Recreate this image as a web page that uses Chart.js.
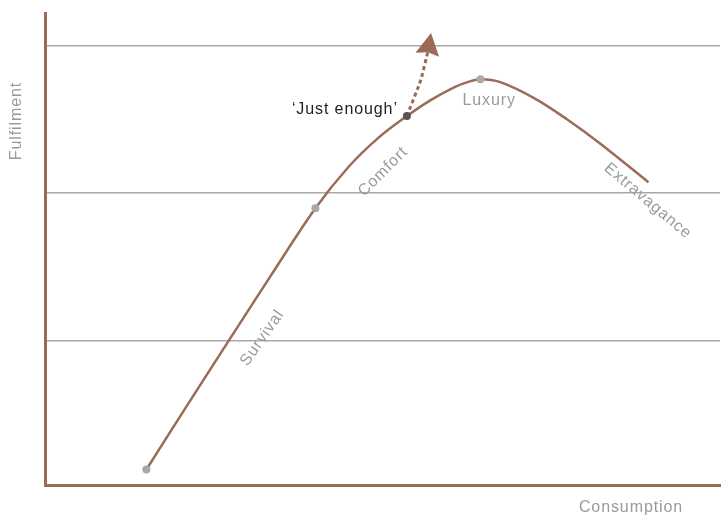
<!DOCTYPE html>
<html>
<head>
<meta charset="utf-8">
<script src="https://cdn.jsdelivr.net/npm/chart.js@4.4.1/dist/chart.umd.min.js"></script>
<style>
  body { margin: 0; background: #fff; }
  #wrap { width: 724px; height: 517px; position: relative; }
</style>
</head>
<body>
<div id="wrap"><canvas id="myChart"></canvas></div>
<script>
// curve (consumption vs fulfilment, arbitrary units)
let curveX = [15.02, 21.06, 27.25, 33.58, 40.06, 44.92, 49.34, 53.61, 57.14, 60.68, 62.59, 64.51, 67.45, 72.46, 77.32, 82.18, 89.40];
let curveY = [0.130, 0.564, 1.004, 1.451, 1.898, 2.176, 2.373, 2.522, 2.630, 2.718, 2.752, 2.772, 2.752, 2.644, 2.501, 2.339, 2.075];

// grey stage markers and the 'just enough' point
let markerX = [15.02, 40.06, 64.51];
let markerY = [0.130, 1.898, 2.772];
let enoughX = [53.61];
let enoughY = [2.522];

// dotted arrow leaving the curve
let arrowX = [53.61, 55.67, 56.70];
let arrowY = [2.522, 2.766, 2.955];
let arrowTip = [57.19, 3.084];

let yGrid = [1, 2, 3];

// stage labels: text, x, y, angle (deg)
let stageLabels = [
    ['Survival', 32.2, 1.021, -55],
    ['Comfort', 50.1, 2.146, -45],
    ['Luxury', 65.8, 2.624, 0],
    ['Extravagance', 89.3, 1.947, 40]
];

const brown = '#9b6b57';
const grey = '#a9a9a9';
const textGrey = '#9a9a9a';
const fontFam = '"Liberation Sans", Arial, Helvetica, sans-serif';

function pts(xs, ys) {
    return xs.map((x, i) => ({ x: x, y: ys[i] }));
}

const annotations = {
    id: 'annotations',
    afterDatasetsDraw(chart) {
        const c = chart.ctx;
        const xs = chart.scales.x, ys = chart.scales.y;
        // arrow head
        const nx = xs.getPixelForValue(arrowX[arrowX.length - 1]);
        const ny = ys.getPixelForValue(arrowY[arrowY.length - 1]);
        const tx = xs.getPixelForValue(arrowTip[0]);
        const ty = ys.getPixelForValue(arrowTip[1]);
        const ang = Math.atan2(ty - ny, tx - nx);
        const len = 22, half = 12;
        const bx = tx - Math.cos(ang) * len, by = ty - Math.sin(ang) * len;
        c.save();
        c.fillStyle = brown;
        c.beginPath();
        c.moveTo(tx, ty);
        c.lineTo(bx + Math.sin(ang) * half, by - Math.cos(ang) * half);
        c.lineTo(nx, ny);
        c.lineTo(bx - Math.sin(ang) * half, by + Math.cos(ang) * half);
        c.closePath();
        c.fill();

        // stage labels
        c.font = '16px ' + fontFam;
        c.letterSpacing = '0.9px';
        c.fillStyle = textGrey;
        c.textAlign = 'center';
        c.textBaseline = 'middle';
        stageLabels.forEach(l => {
            c.save();
            c.translate(xs.getPixelForValue(l[1]), ys.getPixelForValue(l[2]));
            c.rotate(l[3] * Math.PI / 180);
            c.fillText(l[0], 0, 0);
            c.restore();
        });

        // 'just enough'
        c.fillStyle = '#222';
        c.textAlign = 'right';
        c.fillText('\u2018Just enough\u2019', xs.getPixelForValue(enoughX[0]) - 9, ys.getPixelForValue(enoughY[0]) - 7);

        // axis titles
        c.fillStyle = textGrey;
        c.textAlign = 'center';
        c.fillText('Consumption', 631, 508);
        c.save();
        c.translate(17, 121);
        c.rotate(-Math.PI / 2);
        c.fillText('Fulfilment', 0, 0);
        c.restore();
        c.restore();
    }
};

var ctx = document.getElementById('myChart');
var myChart = new Chart(ctx, {
    type: 'scatter',
    data: {
        datasets: [{
            data: pts(curveX, curveY),
            showLine: true,
            borderColor: brown,
            borderWidth: 2.5,
            tension: 0.35,
            pointRadius: 0,
            clip: false,
            order: 3
        }, {
            data: pts(arrowX, arrowY),
            showLine: true,
            borderColor: brown,
            borderWidth: 3,
            borderDash: [4, 3],
            tension: 0.15,
            pointRadius: 0,
            clip: false,
            order: 2
        }, {
            data: pts(markerX, markerY),
            pointRadius: 4,
            pointBackgroundColor: grey,
            pointBorderWidth: 0,
            clip: false,
            order: 1
        }, {
            data: pts(enoughX, enoughY),
            pointRadius: 4,
            pointBackgroundColor: '#555',
            pointBorderWidth: 0,
            clip: false,
            order: 0
        }]
    },
    options: {
        responsive: true,
        maintainAspectRatio: false,
        animation: false,
        layout: { padding: { left: 45, right: 0, top: 13, bottom: 32 } },
        plugins: { legend: { display: false }, tooltip: { enabled: false } },
        scales: {
            x: {
                type: 'linear',
                min: 0,
                max: 100,
                ticks: { display: false },
                grid: { display: false, drawTicks: false },
                border: { color: brown, width: 3 }
            },
            y: {
                min: 0.025,
                max: 3.22,
                afterBuildTicks: s => { s.ticks = yGrid.map(v => ({ value: v })); },
                ticks: { display: false },
                grid: { color: grey, lineWidth: 1.5, drawTicks: false },
                border: { color: brown, width: 3 }
            }
        }
    },
    plugins: [annotations]
});
</script>
</body>
</html>
